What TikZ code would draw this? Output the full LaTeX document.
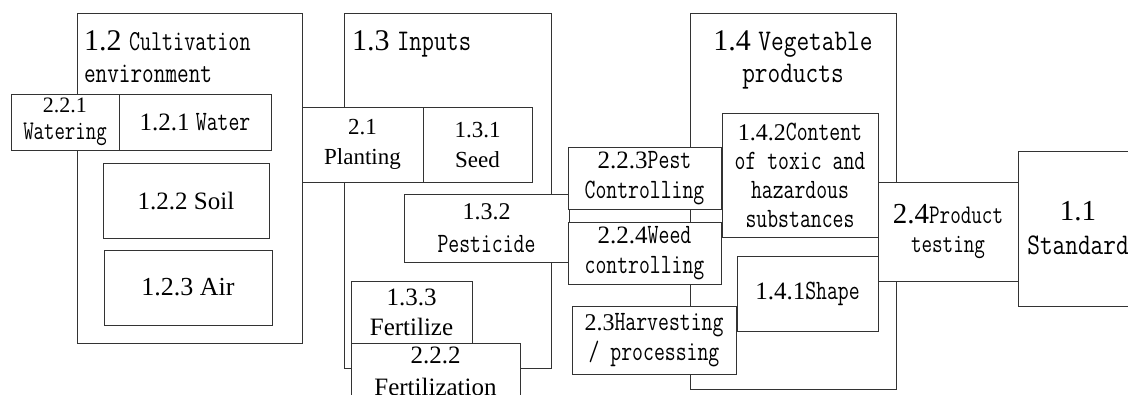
\documentclass[tikz,border=0pt]{standalone}
\usepackage{fontspec}
\setmainfont{Liberation Serif}
% narrow typewriter words: size, horizontal scale, text
\newcommand\monow[3]{{\fontsize{#1}{#1}\ttfamily\scalebox{#2}[1]{#3}}}
\newcommand\sm[1]{\monow{28}{0.755}{#1}}
\newcommand\fsz[2]{\fontsize{#1}{#2}\selectfont}
\tikzset{
  box/.style={draw=black!80, line width=1pt, fill=white, inner sep=0pt, outer sep=0pt, align=center},
  heading/.style={inner sep=0pt, outer sep=0pt}
}
% rectangle node from its corners: options, name, x1, y1, x2, y2, text
\newcommand\rbox[7]{\node[box,#1,minimum width={(#5-#3)*1pt},minimum height={(#6-#4)*1pt}] (#2) at ({(#3+#5)/2},{(#4+#6)/2}) {#7};}
\begin{document}
\begin{tikzpicture}[x=1pt,y=-1pt]
\useasboundingbox (0,0) rectangle (1128,394);
\clip (0,0) rectangle (1128,394);
% group frames
\rbox{}{g12}{77}{13}{302}{343}{}
\rbox{}{g13}{344}{13}{551}{368}{}
\rbox{}{g14}{690}{13}{896}{389}{}
\rbox{font=\fsz{29}{34}}{g11}{1018}{151}{1138}{306}{1.1\\\monow{30}{0.82}{Standard}}
% group headings (base anchor sits on the last line)
\node[heading, anchor=base west, align=left, font=\fsz{30}{32}] (h12) at (84,82)
  {1.2 \monow{29}{0.74}{Cultivation}\\\monow{29}{0.78}{environment}};
\node[heading, anchor=base west, font=\fsz{30}{32}] (h13) at (352,50)
  {1.3 \monow{30}{0.8}{Inputs}};
\node[heading, anchor=base, align=center, font=\fsz{30}{32}] (h14) at (793,82)
  {1.4 \monow{30}{0.82}{Vegetable}\\\monow{30}{0.82}{products}};
% cultivation environment
\rbox{font=\fsz{22}{27}}{b221}{11}{94}{119}{150}{2.2.1\\\monow{27}{0.75}{Watering}}
\rbox{font=\fsz{25}{30}}{b121}{119}{94}{271}{150}{1.2.1 \sm{Water}}
\rbox{font=\fsz{25}{30}}{b122}{103}{163}{269}{238}{1.2.2 Soil}
\rbox{font=\fsz{26}{30}}{b123}{104}{250}{272}{325}{1.2.3 Air}
% inputs
\rbox{font=\fsz{23}{30}}{b21}{302}{107}{423}{182}{2.1\\Planting}
\rbox{font=\fsz{23}{30}}{b131}{423}{107}{532}{182}{1.3.1\\Seed}
\rbox{font=\fsz{24}{33}}{b132}{404}{194}{569}{262}{1.3.2\\\sm{Pesticide}}
\rbox{font=\fsz{25}{30}}{b133}{351}{281}{472}{343}{1.3.3\\Fertilize}
\rbox{font=\fsz{25}{32}}{b222}{351}{343}{520}{400}{2.2.2\\Fertilization}
% management steps
\rbox{font=\fsz{25}{30}}{b223}{568}{147}{721}{209}{2.2.3\sm{Pest}\\\sm{Controlling}}
\rbox{font=\fsz{25}{30}}{b224}{568}{222}{721}{284}{2.2.4\sm{Weed}\\\sm{controlling}}
\rbox{font=\fsz{24}{30}}{b23}{572}{306}{736}{374}{2.3\sm{Harvesting}\\\sm{/ processing}}
% vegetable products
\rbox{font=\fsz{24}{29}}{b142}{722}{113}{878}{237}{1.4.2\sm{Content}\\\sm{of toxic and}\\\sm{hazardous}\\\sm{substances}}
\rbox{font=\fsz{25}{30}}{b141}{737}{256}{878}{331}{1.4.1\sm{Shape}}
\rbox{font=\fsz{29}{29}}{b24}{878}{182}{1018}{281}{2.4\monow{27}{0.76}{Product}\\\monow{27}{0.76}{testing}}
\end{tikzpicture}
\end{document}
